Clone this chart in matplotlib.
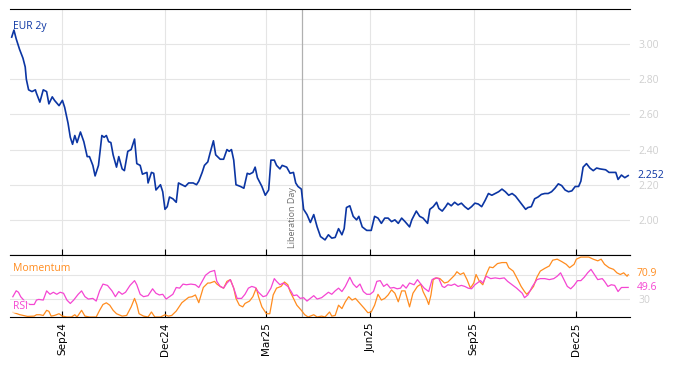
import matplotlib
matplotlib.use("Agg")
import matplotlib.pyplot as plt
import matplotlib.dates as mdates
import pandas as pd

# --- data (days counted from START) ---
START = pd.Timestamp("2024-07-18")
LIBERATION_DAY = pd.Timestamp("2025-04-02")

eur_day = [0, 2, 4, 7, 10, 12, 13, 15, 18, 21, 22, 25, 28, 31, 33, 36, 38, 42, 45, 47,
           50, 52, 54, 56, 58, 61, 64, 67, 69, 72, 74, 77, 80, 82, 84, 86, 88, 90, 93, 95,
           98, 100, 103, 106, 109, 111, 114, 116, 120, 121, 124, 126, 128, 132, 134, 136, 138, 140, 143, 146,
           148, 151, 154, 157, 161, 164, 166, 169, 171, 174, 176, 179, 181, 185, 188, 191, 193, 195, 197, 199,
           203, 206, 209, 211, 214, 216, 218, 222, 225, 228, 230, 233, 235, 238, 240, 244, 247, 250, 252, 254,
           257, 259, 262, 265, 268, 271, 274, 278, 281, 284, 287, 290, 293, 295, 297, 300, 303, 306, 308, 311,
           315, 319, 322, 325, 328, 331, 334, 337, 340, 343, 346, 349, 353, 355, 359, 362, 365, 369, 371, 374,
           377, 379, 382, 385, 387, 390, 393, 396, 399, 402, 405, 408, 411, 414, 417, 420, 423, 426, 429, 432,
           435, 438, 441, 444, 447, 450, 453, 456, 458, 461, 464, 467, 470, 473, 476, 479, 482, 485, 488, 491,
           494, 497, 500, 503, 505, 507, 510, 513, 516, 519, 522, 527, 530, 533, 536, 538, 541, 544, 547]
eur_2y = [3.04, 3.08, 3.03, 2.97, 2.92, 2.87, 2.80, 2.74, 2.73, 2.74, 2.72, 2.67, 2.74, 2.73, 2.66, 2.70, 2.68, 2.65, 2.68, 2.64,
          2.55, 2.47, 2.43, 2.48, 2.44, 2.50, 2.445, 2.36, 2.36, 2.31, 2.25, 2.31, 2.48, 2.47, 2.48, 2.445, 2.44, 2.37, 2.30, 2.36,
          2.29, 2.28, 2.39, 2.40, 2.46, 2.32, 2.31, 2.26, 2.27, 2.21, 2.27, 2.265, 2.17, 2.20, 2.16, 2.06, 2.075, 2.13, 2.12, 2.10,
          2.21, 2.20, 2.19, 2.21, 2.21, 2.20, 2.22, 2.27, 2.31, 2.33, 2.38, 2.45, 2.37, 2.345, 2.345, 2.40, 2.39, 2.40, 2.34, 2.20,
          2.19, 2.18, 2.265, 2.26, 2.27, 2.30, 2.24, 2.19, 2.14, 2.17, 2.34, 2.34, 2.31, 2.29, 2.31, 2.30, 2.265, 2.27, 2.21, 2.19,
          2.175, 2.06, 2.03, 1.985, 2.03, 1.96, 1.905, 1.886, 1.915, 1.896, 1.90, 1.95, 1.915, 1.95, 2.07, 2.08, 2.02, 2.00, 2.02, 1.96,
          1.94, 1.94, 2.02, 2.01, 1.98, 2.01, 2.01, 1.99, 2.00, 1.98, 2.01, 1.99, 1.96, 2.00, 2.05, 2.02, 2.01, 1.98, 2.06, 2.075,
          2.10, 2.065, 2.05, 2.075, 2.095, 2.08, 2.10, 2.085, 2.095, 2.075, 2.06, 2.075, 2.095, 2.09, 2.075, 2.11, 2.15, 2.14, 2.15, 2.16,
          2.175, 2.16, 2.14, 2.15, 2.135, 2.11, 2.085, 2.06, 2.07, 2.075, 2.12, 2.13, 2.145, 2.15, 2.15, 2.16, 2.18, 2.205, 2.195, 2.17,
          2.16, 2.165, 2.19, 2.19, 2.22, 2.30, 2.32, 2.295, 2.28, 2.295, 2.29, 2.285, 2.27, 2.27, 2.27, 2.23, 2.255, 2.24, 2.252]

rsi_day = [1, 4, 6, 8, 12, 16, 20, 22, 24, 28, 31, 34, 37, 40, 43, 46, 49, 52, 55, 59,
           62, 65, 68, 72, 75, 78, 81, 85, 89, 92, 95, 98, 101, 105, 109, 111, 114, 117, 121, 125,
           128, 131, 134, 137, 140, 143, 146, 149, 152, 155, 159, 163, 166, 169, 172, 176, 180, 182, 185, 188,
           191, 194, 197, 200, 204, 207, 210, 213, 216, 219, 223, 226, 230, 233, 235, 238, 241, 245, 248, 250,
           253, 256, 259, 262, 265, 268, 271, 275, 278, 281, 284, 287, 290, 293, 296, 300, 303, 306, 309, 312,
           315, 318, 321, 324, 327, 330, 333, 336, 339, 342, 345, 347, 350, 353, 357, 360, 363, 366, 370, 373,
           376, 379, 382, 384, 387, 390, 393, 396, 399, 402, 405, 408, 411, 416, 418, 421, 425, 429, 433, 437,
           440, 444, 448, 453, 455, 458, 462, 466, 469, 473, 477, 481, 484, 487, 490, 493, 496, 499, 502, 505,
           508, 511, 514, 517, 520, 524, 526, 529, 532, 535, 538, 541, 544, 547]
rsi = [34, 44, 41.5, 34, 25.5, 21, 21, 28.4, 29.5, 28.4, 43.8, 38.1, 41.5, 38.1, 41.5, 39.8, 28.4, 22.7, 28.4, 38.1,
       43.8, 34.1, 30.1, 31.2, 26.7, 43.8, 55.2, 53, 43.8, 34.1, 42.7, 38.1, 41.5, 53, 61, 54.1, 38.1, 34.1, 35.8, 47.3,
       39.8, 37, 38.1, 30.1, 34.1, 38.1, 49.5, 48.4, 55.2, 54.1, 55.2, 54.1, 49.5, 59.8, 70.1, 75.9, 78.1, 59.8, 51.3, 48.4,
       57, 62.7, 48.4, 31.2, 31.2, 38.1, 48.4, 51.3, 49.5, 41.5, 34.1, 35.8, 48.4, 64.4, 59.8, 54.1, 57, 51.3, 42.7, 35.8,
       37, 31.2, 32.4, 26.7, 31.2, 35.8, 30.1, 32.4, 37, 41.5, 38.1, 43.8, 48.4, 42.7, 51.3, 66.7, 55.3, 49.5, 55.3, 42.7,
       38.1, 38.1, 42.7, 59.8, 61, 51.3, 55.3, 48.4, 49.5, 47.3, 48.4, 54.1, 48.4, 57, 54.1, 62.7, 55.3, 48.4, 42.7, 62.7,
       65.6, 64.4, 51.3, 49.5, 54.1, 53, 55.3, 51.3, 53, 51.3, 48.4, 47.3, 54.1, 61, 57, 68.4, 64.4, 65.6, 64.4, 65.6,
       59.8, 54.1, 48.4, 39.8, 32.4, 37, 51.3, 62.7, 64.4, 64.4, 62.7, 64.4, 68.4, 74.1, 62.7, 51.3, 47.3, 53, 61, 61,
       66.7, 74.1, 79.9, 71.3, 62.7, 64.4, 59.8, 51.3, 54.1, 53, 42.7, 49.5, 49.5, 49.6]

mom_day = [1, 7, 14, 20, 22, 25, 28, 31, 33, 35, 38, 42, 45, 49, 53, 56, 58, 62, 65, 69,
           75, 78, 81, 84, 87, 90, 93, 98, 102, 106, 109, 111, 113, 117, 121, 124, 127, 132, 136, 139,
           142, 146, 151, 157, 160, 163, 166, 170, 174, 176, 180, 182, 185, 188, 191, 194, 197, 199, 202, 205,
           207, 211, 214, 217, 219, 222, 226, 229, 232, 235, 239, 242, 245, 247, 250, 253, 257, 260, 263, 268,
           271, 275, 278, 282, 284, 287, 290, 293, 296, 299, 302, 305, 309, 313, 316, 319, 322, 325, 328, 331,
           334, 337, 340, 343, 346, 349, 353, 356, 360, 363, 365, 368, 370, 372, 374, 377, 380, 384, 387, 390,
           393, 395, 398, 401, 404, 407, 410, 412, 415, 418, 421, 424, 427, 431, 435, 439, 441, 445, 449, 452,
           455, 457, 460, 463, 466, 469, 473, 477, 480, 484, 488, 492, 495, 499, 501, 505, 509, 512, 516, 520,
           523, 526, 530, 534, 537, 540, 543, 546, 547]
momentum = [8, 4, 1, 1.5, 3.8, 3.8, 2.6, 11.2, 9.5, 1.5, 2.6, 5.5, 1.5, 0, 0, 3.8, 0, 11.2, 1.5, 0,
            0, 11.2, 21, 23.8, 19.8, 11.2, 5.5, 1.5, 2.6, 17, 31.2, 21, 5.5, 1.5, 0, 8.4, 0, 0, 3.8, 1.5,
            2.6, 10, 24, 33, 34, 37, 24, 49.5, 57, 57, 59.8, 55.3, 51.3, 48.4, 59.8, 62.7, 48.4, 31.2, 19.8, 17,
            22.7, 26.7, 34.1, 48.4, 34.1, 17, 5.5, 5.5, 37, 48.4, 51.3, 58.7, 54.1, 42.7, 31.2, 19.8, 11.2, 3.8, 0, 3.8,
            0, 1.5, 0, 8.4, 1.5, 2.6, 19.8, 14.1, 25.5, 34.1, 28.4, 31.2, 22.7, 14.1, 7.2, 8.4, 19.8, 38.1, 28.4, 31.2,
            37, 45.5, 39.8, 25.5, 43.8, 43.8, 17, 39.8, 51.3, 55, 42.7, 31.2, 21, 37, 62.7, 65.6, 64.4, 57, 58.7, 64.4,
            70.1, 75.9, 71.3, 74.1, 62.7, 48.4, 57, 71.3, 59.8, 54.1, 71.3, 83.9, 82.7, 89.6, 91.3, 91.3, 82.7, 77, 62.7, 51.3,
            42.7, 38.1, 43.8, 51.3, 66.7, 77, 81.6, 85.6, 95.3, 97, 93, 88.4, 82.7, 88.4, 97, 100.5, 100.5, 100.5, 97, 94.2,
            97, 88.4, 82.7, 79.9, 74.1, 71.3, 74.1, 68.4, 70.9]

BLUE, ORANGE, PINK = "#0B35A3", "#FF8C1F", "#F545D2"
GRID, TICKGREY = "#e5e5e5", "#cfcfcf"

to_dates = lambda days: START + pd.to_timedelta(days, unit="D")
eur_dates, rsi_dates, mom_dates = to_dates(eur_day), to_dates(rsi_day), to_dates(mom_day)

plt.rcParams["font.family"] = ["Open Sans", "DejaVu Sans"]
fig = plt.figure(figsize=(6.74, 3.66), dpi=100)
ax = fig.add_axes([10 / 674, 1 - 255 / 366, 620 / 674, 246 / 366])
ax2 = fig.add_axes([10 / 674, 1 - 317 / 366, 620 / 674, 62 / 366], sharex=ax)

ax.plot(eur_dates, eur_2y, color=BLUE, lw=1.2)
ax2.plot(mom_dates, momentum, color=ORANGE, lw=0.9)
ax2.plot(rsi_dates, rsi, color=PINK, lw=0.9)

ax.set_ylim(1.80, 3.20)
ax.set_yticks([2.0, 2.2, 2.4, 2.6, 2.8, 3.0])
ax.yaxis.set_major_formatter(plt.FuncFormatter(lambda v, _: f"{v:.2f}"))
ax2.set_ylim(0, 104)
ax2.set_yticks([30, 70])
ax.set_xlim(START - pd.Timedelta(days=1.5), START + pd.Timedelta(days=548.6))

for a in (ax, ax2):
    a.yaxis.tick_right()
    a.tick_params(axis="y", length=0, pad=6, labelsize=7.5, labelcolor=TICKGREY)
    a.tick_params(axis="x", direction="in", length=4, width=0.8, color="black")
    a.grid(True, color=GRID, lw=0.8)
    a.set_axisbelow(True)
    for s in ("left", "right"):
        a.spines[s].set_visible(False)
    a.axvline(LIBERATION_DAY, color="#b0b0b0", lw=0.9, zorder=1)

ax.xaxis.set_major_locator(mdates.MonthLocator(bymonth=[3, 6, 9, 12]))
ax.xaxis.set_major_formatter(mdates.DateFormatter("%b%y"))
ax.tick_params(axis="x", labelbottom=False)
ax2.tick_params(axis="x", labelsize=7.5, labelrotation=90, pad=4)
for lbl in ax2.get_xticklabels():
    lbl.set_family(["DejaVu Sans"])
ax2.yaxis.get_major_ticks()[1].label2.set_visible(False)  # hidden behind the 70.9 tag

ax.text(LIBERATION_DAY - pd.Timedelta(days=5), 1.84, "Liberation Day", rotation=90,
        fontsize=6.5, color="#707070", ha="right", va="bottom")

ax.text(0.005, 0.93, "EUR 2y", transform=ax.transAxes, fontsize=7.5, color=BLUE, va="center")
box = dict(facecolor="white", edgecolor="none", alpha=0.7, pad=0.5)
ax2.text(0.005, 0.78, "Momentum", transform=ax2.transAxes, fontsize=7.5, color=ORANGE, va="center", bbox=box)
ax2.text(0.005, 0.17, "RSI", transform=ax2.transAxes, fontsize=7.5, color=PINK, va="center", bbox=box)

yt = ax.get_yaxis_transform()
ax.annotate(f"{eur_2y[-1]:.3f}", (1, eur_2y[-1]), xycoords=yt, xytext=(5, 0), textcoords="offset points",
            fontsize=7.5, color=BLUE, va="center")
yt2 = ax2.get_yaxis_transform()
ax2.annotate(f"{momentum[-1]:.1f}", (1, momentum[-1]), xycoords=yt2, xytext=(5, 1), textcoords="offset points",
             fontsize=7.5, color=ORANGE, va="center")
ax2.annotate(f"{rsi[-1]:.1f}", (1, rsi[-1]), xycoords=yt2, xytext=(5, 0), textcoords="offset points",
             fontsize=7.5, color=PINK, va="center")

fig.savefig("out.png", dpi=100)
